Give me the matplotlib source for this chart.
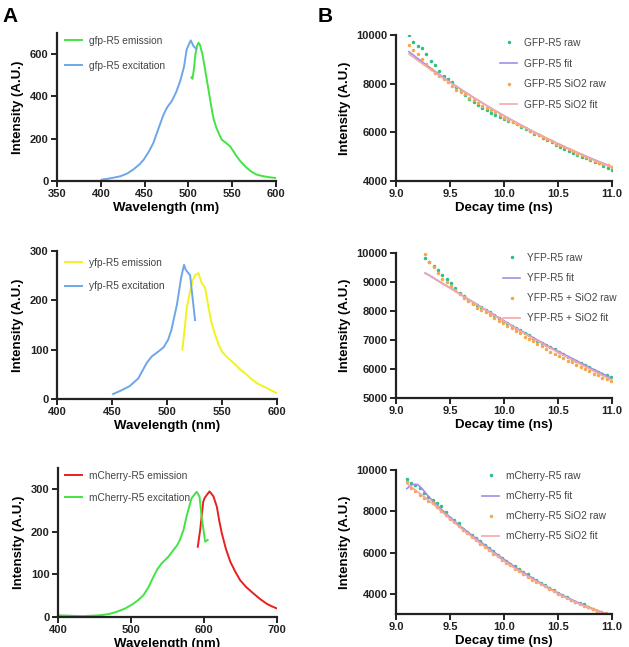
import matplotlib
matplotlib.use("Agg")
import matplotlib.pyplot as plt

plt.rcParams['font.family'] = ['Liberation Sans', 'DejaVu Sans']

# ---- spectra (panel A) ----
gfp_ex_x = [401, 410, 422, 430, 437, 444, 449, 455, 460, 466, 471.6, 476, 481, 486, 490.6, 495, 498, 501, 502.7, 505.8, 509]
gfp_ex_y = [6, 12, 22, 35, 54, 78, 101, 140, 180, 250, 314, 350, 378, 420, 472, 540, 622, 650, 665, 638, 625]
gfp_em_x = [503.5, 504.6, 506, 508, 510, 511.5, 513, 516, 519, 523, 526.7, 529, 532, 535, 538, 543, 547.6, 551, 555, 560, 566.6, 572, 578, 585, 592, 600]
gfp_em_y = [490, 483, 520, 600, 640, 654, 646, 600, 528, 430, 338, 290, 251, 222, 196, 180, 164, 143, 117, 90, 62, 44, 30, 23, 18, 14]

yfp_ex_x = [451, 458, 466, 474, 481.5, 486, 492, 497, 501, 504, 509, 513, 515.5, 517, 519.5, 521, 523, 525.5]
yfp_ex_y = [10, 17, 26, 42, 73, 86, 96, 105, 120, 140, 191, 248, 272, 262, 255, 251, 210, 160]
yfp_em_x = [514, 516.4, 518, 521, 523, 525.5, 528.6, 531.6, 534.7, 537, 539, 541, 543.8, 547, 550, 555, 560.5, 566, 572.6, 577, 581.8, 586, 591, 596, 600]
yfp_em_y = [100, 150, 185, 218, 238, 251, 255, 235, 225, 195, 170, 150, 130, 110, 96, 84, 73, 61, 49, 40, 32, 27, 22, 16, 12]

mch_ex_x = [400, 417, 434, 457, 470, 480, 492, 503, 510, 517, 524, 530.6, 536, 542, 551, 558, 563, 567, 572, 576, 583, 588, 590, 593.8, 597, 601.6, 605]
mch_ex_y = [4, 3, 2, 4, 7, 12, 20, 31, 40, 51, 70, 94, 112, 126, 141, 157, 168, 181, 205, 236, 279, 290, 294, 283, 232, 177, 181]
mch_em_x = [591.5, 594.7, 597, 599, 601, 604, 607.5, 610, 613, 617.6, 621, 624.5, 630, 636, 643, 649.7, 658, 667.9, 677, 686, 693, 700]
mch_em_y = [165, 204, 240, 271, 280, 287, 295, 290, 283, 259, 225, 196, 160, 130, 106, 86, 70, 55, 42, 31, 25, 20]

# ---- decay curves (panel B) ----
gfp_t = [9.12, 9.16, 9.20, 9.24, 9.28, 9.32, 9.36, 9.40, 9.44, 9.48, 9.52, 9.56, 9.60, 9.64, 9.68, 9.72,
         9.76, 9.80, 9.84, 9.88, 9.92, 9.96, 10.00, 10.04, 10.08, 10.12, 10.16, 10.20, 10.24, 10.28, 10.32, 10.36,
         10.40, 10.44, 10.48, 10.52, 10.56, 10.60, 10.64, 10.68, 10.72, 10.76, 10.80, 10.84, 10.88, 10.92, 10.96, 11.00]
gfp_raw = [10000, 9720, 9560, 9480, 9230, 8950, 8760, 8520, 8330, 8180, 8050, 7880, 7700, 7540, 7380, 7250,
           7120, 7000, 6920, 6800, 6700, 6620, 6560, 6480, 6420, 6330, 6230, 6150, 6060, 5950, 5880, 5760,
           5680, 5590, 5480, 5400, 5300, 5250, 5150, 5080, 5000, 4940, 4860, 4800, 4720, 4630, 4530, 4470]
gfp_sio2_raw = [9580, 9380, 9200, 9000, 8820, 8600, 8450, 8330, 8180, 8060, 7900, 7760, 7640, 7560, 7420, 7330,
                7200, 7100, 6990, 6900, 6820, 6700, 6600, 6500, 6420, 6350, 6250, 6180, 6050, 5990, 5900, 5800,
                5720, 5650, 5540, 5470, 5380, 5300, 5220, 5130, 5060, 4980, 4900, 4830, 4760, 4700, 4640, 4560]
gfp_fit_t = [9.12, 9.2, 9.3, 9.4, 9.5, 9.6, 9.7, 9.8, 9.9, 10.0, 10.1, 10.2, 10.3, 10.4, 10.5, 10.6, 10.7, 10.8, 10.9, 11.0]
gfp_fit = [9315, 9038, 8703, 8381, 8071, 7772, 7484, 7207, 6940, 6683, 6436, 6197, 5967, 5746, 5534, 5329, 5132, 4942, 4759, 4582]
gfp_sio2_fit = [9220, 8958, 8643, 8341, 8051, 7762, 7479, 7204, 6938, 6680, 6432, 6192, 5961, 5738, 5525, 5318, 5120, 4928, 4743, 4560]

yfp_t = [9.27, 9.31, 9.35, 9.39, 9.43, 9.47, 9.51, 9.55, 9.59, 9.63, 9.67, 9.71, 9.75, 9.79, 9.83, 9.87,
         9.91, 9.95, 9.99, 10.03, 10.07, 10.11, 10.15, 10.19, 10.23, 10.27, 10.31, 10.35, 10.39, 10.43, 10.47, 10.51,
         10.55, 10.59, 10.63, 10.67, 10.71, 10.75, 10.79, 10.83, 10.87, 10.91, 10.95, 10.99]
yfp_raw = [9820, 9700, 9560, 9420, 9250, 9100, 8950, 8780, 8620, 8500, 8380, 8290, 8200, 8150, 8020, 7960,
           7850, 7760, 7650, 7600, 7480, 7400, 7340, 7250, 7160, 7060, 6980, 6890, 6830, 6760, 6680, 6590,
           6500, 6430, 6360, 6290, 6200, 6140, 6060, 5980, 5900, 5840, 5780, 5720]
yfp_sio2_raw = [9950, 9680, 9500, 9300, 9120, 9000, 8870, 8720, 8580, 8450, 8330, 8230, 8120, 8030, 7950, 7850,
                7760, 7660, 7580, 7490, 7400, 7300, 7230, 7120, 7040, 6950, 6870, 6780, 6700, 6600, 6520, 6450,
                6380, 6290, 6230, 6150, 6060, 5990, 5920, 5840, 5780, 5700, 5650, 5580]
yfp_fit_t = [9.27, 9.3, 9.4, 9.5, 9.6, 9.7, 9.8, 9.9, 10.0, 10.1, 10.2, 10.3, 10.4, 10.5, 10.6, 10.7, 10.8, 10.9, 11.0]
yfp_fit = [9310, 9250, 9020, 8800, 8570, 8340, 8110, 7890, 7660, 7440, 7230, 7020, 6810, 6610, 6420, 6230, 6040, 5860, 5670]
yfp_sio2_fit = [9300, 9240, 9010, 8790, 8560, 8330, 8100, 7875, 7645, 7420, 7205, 6990, 6780, 6575, 6380, 6185, 5990, 5805, 5610]

mch_t = [9.10, 9.14, 9.18, 9.22, 9.26, 9.30, 9.34, 9.38, 9.42, 9.46, 9.50, 9.54, 9.58, 9.62, 9.66, 9.70,
         9.74, 9.78, 9.82, 9.86, 9.90, 9.94, 9.98, 10.02, 10.06, 10.10, 10.14, 10.18, 10.22, 10.26, 10.30, 10.34,
         10.38, 10.42, 10.46, 10.50, 10.54, 10.58, 10.62, 10.66, 10.70, 10.74, 10.78, 10.82, 10.86, 10.90, 10.94, 10.98]
mch_raw = [9580, 9350, 9280, 9150, 8900, 8680, 8560, 8400, 8250, 7950, 7700, 7600, 7420, 7150, 7000, 6850,
           6720, 6580, 6380, 6240, 6080, 5900, 5770, 5590, 5480, 5350, 5200, 5060, 4950, 4780, 4660, 4560,
           4430, 4300, 4190, 4040, 3960, 3870, 3720, 3600, 3580, 3500, 3390, 3300, 3200, 3120, 3060, 3000]
mch_sio2_raw = [9400, 9150, 9000, 8800, 8650, 8500, 8420, 8200, 8000, 7830, 7620, 7480, 7280, 7100, 6950, 6760,
                6620, 6440, 6300, 6150, 5960, 5830, 5660, 5500, 5400, 5230, 5130, 4960, 4850, 4700, 4600, 4480,
                4380, 4240, 4150, 4020, 3920, 3830, 3720, 3620, 3520, 3450, 3370, 3280, 3200, 3130, 3070, 3040]
mch_fit_t = [9.1, 9.15, 9.2, 9.25, 9.3, 9.4, 9.5, 9.6, 9.7, 9.8, 9.9, 10.0, 10.1, 10.2, 10.3, 10.4, 10.5, 10.6, 10.7, 10.8, 10.9, 11.0]
mch_fit = [9100, 9300, 9300, 9050, 8720, 8200, 7720, 7270, 6860, 6460, 6060, 5680, 5320, 4980, 4660, 4350, 4060, 3800, 3560, 3340, 3140, 2950]
mch_sio2_fit = [9350, 9150, 8950, 8750, 8550, 8100, 7640, 7200, 6780, 6380, 5990, 5600, 5250, 4920, 4610, 4310, 4020, 3760, 3520, 3300, 3110, 2930]

W, H = 629, 647
fig = plt.figure(figsize=(W / 100, H / 100), dpi=100)


def box(l, t, r, b):
    return [l / W, 1 - b / H, (r - l) / W, (b - t) / H]


def style(ax):
    for s in ['top', 'right']:
        ax.spines[s].set_visible(False)
    for s in ['left', 'bottom']:
        ax.spines[s].set_linewidth(1.6)
        ax.spines[s].set_color('#222222')
    ax.tick_params(direction='out', length=4, width=1.4, labelsize=8, pad=2, colors='#222222')
    for lab in ax.get_xticklabels() + ax.get_yticklabels():
        lab.set_fontweight('bold')
    ax.set_ylabel('Intensity (A.U.)', fontsize=9.5, fontweight='bold', labelpad=4)


def leg(ax, x, y, spacing):
    ax.legend(loc='upper left', bbox_to_anchor=(x, y), frameon=False, fontsize=7.3, numpoints=1,
              handlelength=1.7, handletextpad=0.7, labelspacing=spacing, labelcolor='#444444',
              borderaxespad=0, borderpad=0)


green = '#42e442'
blue = '#6ea6e8'
yellow = '#f2f21e'
red = '#e82020'
c_raw1 = '#2fbf82'
c_raw2 = '#f7a64a'
c_fit1 = '#9d90e8'
c_fit2 = '#f5a8a8'

# A1
ax = fig.add_axes(box(57, 33, 276, 181))
ax.plot(gfp_em_x, gfp_em_y, color=green, lw=1.4, label='gfp-R5 emission')
ax.plot(gfp_ex_x, gfp_ex_y, color=blue, lw=1.4, label='gfp-R5 excitation')
ax.set_xlim(350, 600)
ax.set_ylim(0, 700)
ax.set_xticks([350, 400, 450, 500, 550, 600])
ax.set_yticks([0, 200, 400, 600])
ax.set_xlabel('Wavelength (nm)', fontsize=9.5, fontweight='bold', labelpad=2)
style(ax)
leg(ax, 8 / 219, (181 - 36) / 148, 1.45)

# B1
ax = fig.add_axes(box(396, 35, 612, 181))
ax.plot(gfp_t, gfp_raw, ls='none', marker='o', ms=1.5, color=c_raw1, label='GFP-R5 raw')
ax.plot(gfp_fit_t, gfp_fit, color=c_fit1, lw=1.2, label='GFP-R5 fit')
ax.plot(gfp_t, gfp_sio2_raw, ls='none', marker='o', ms=1.5, color=c_raw2, label='GFP-R5 SiO2 raw')
ax.plot(gfp_fit_t, gfp_sio2_fit, color=c_fit2, lw=1.2, label='GFP-R5 SiO2 fit')
ax.set_xlim(9.0, 11.0)
ax.set_ylim(4000, 10000)
ax.set_xticks([9.0, 9.5, 10.0, 10.5, 11.0])
ax.set_xticklabels(['9.0', '9.5', '10.0', '10.5', '11.0'])
ax.set_yticks([4000, 6000, 8000, 10000])
ax.set_xlabel('Decay time (ns)', fontsize=9.5, fontweight='bold', labelpad=2)
style(ax)
leg(ax, (500 - 396) / 216, (181 - 38) / 146, 1.05)

# A2
ax = fig.add_axes(box(57, 251, 277, 399))
ax.plot(yfp_em_x, yfp_em_y, color=yellow, lw=1.4, label='yfp-R5 emission')
ax.plot(yfp_ex_x, yfp_ex_y, color=blue, lw=1.4, label='yfp-R5 excitation')
ax.set_xlim(400, 600)
ax.set_ylim(0, 300)
ax.set_xticks([400, 450, 500, 550, 600])
ax.set_yticks([0, 100, 200, 300])
ax.set_xlabel('Wavelength (nm)', fontsize=9.5, fontweight='bold', labelpad=2)
style(ax)
leg(ax, 8 / 220, (399 - 258) / 148, 1.3)

# B2
ax = fig.add_axes(box(396, 253, 612, 398))
ax.plot(yfp_t, yfp_raw, ls='none', marker='o', ms=1.5, color=c_raw1, label='YFP-R5 raw')
ax.plot(yfp_fit_t, yfp_fit, color=c_fit1, lw=1.2, label='YFP-R5 fit')
ax.plot(yfp_t, yfp_sio2_raw, ls='none', marker='o', ms=1.5, color=c_raw2, label='YFP-R5 + SiO2 raw')
ax.plot(yfp_fit_t, yfp_sio2_fit, color=c_fit2, lw=1.2, label='YFP-R5 + SiO2 fit')
ax.set_xlim(9.0, 11.0)
ax.set_ylim(5000, 10000)
ax.set_xticks([9.0, 9.5, 10.0, 10.5, 11.0])
ax.set_xticklabels(['9.0', '9.5', '10.0', '10.5', '11.0'])
ax.set_yticks([5000, 6000, 7000, 8000, 9000, 10000])
ax.set_xlabel('Decay time (ns)', fontsize=9.5, fontweight='bold', labelpad=2)
style(ax)
leg(ax, (503 - 396) / 216, (398 - 253) / 145, 1.0)

# A3
ax = fig.add_axes(box(58, 468, 277, 617))
ax.plot(mch_em_x, mch_em_y, color=red, lw=1.4, label='mCherry-R5 emission')
ax.plot(mch_ex_x, mch_ex_y, color=green, lw=1.4, label='mCherry-R5 excitation')
ax.set_xlim(400, 700)
ax.set_ylim(0, 350)
ax.set_xticks([400, 500, 600, 700])
ax.set_yticks([0, 100, 200, 300])
ax.set_xlabel('Wavelength (nm)', fontsize=9.5, fontweight='bold', labelpad=2)
style(ax)
leg(ax, 7 / 219, (617 - 471) / 149, 1.15)

# B3
ax = fig.add_axes(box(396, 470, 612, 614))
ax.plot(mch_t, mch_raw, ls='none', marker='o', ms=1.5, color=c_raw1, label='mCherry-R5 raw')
ax.plot(mch_fit_t, mch_fit, color=c_fit1, lw=1.2, label='mCherry-R5 fit')
ax.plot(mch_t, mch_sio2_raw, ls='none', marker='o', ms=1.5, color=c_raw2, label='mCherry-R5 SiO2 raw')
ax.plot(mch_fit_t, mch_sio2_fit, color=c_fit2, lw=1.2, label='mCherry-R5 SiO2 fit')
ax.set_xlim(9.0, 11.0)
ax.set_ylim(3040, 10000)
ax.set_xticks([9.0, 9.5, 10.0, 10.5, 11.0])
ax.set_xticklabels(['9.0', '9.5', '10.0', '10.5', '11.0'])
ax.set_yticks([4000, 6000, 8000, 10000])
ax.set_xlabel('Decay time (ns)', fontsize=9.5, fontweight='bold', labelpad=2)
style(ax)
leg(ax, (482 - 396) / 216, (614 - 471) / 144, 1.0)

fig.text(2 / W, 1 - 16 / H, 'A', fontsize=15, fontweight='bold', va='center', ha='left')
fig.text(318 / W, 1 - 16 / H, 'B', fontsize=15, fontweight='bold', va='center', ha='left')

fig.savefig('out.png', dpi=100)
